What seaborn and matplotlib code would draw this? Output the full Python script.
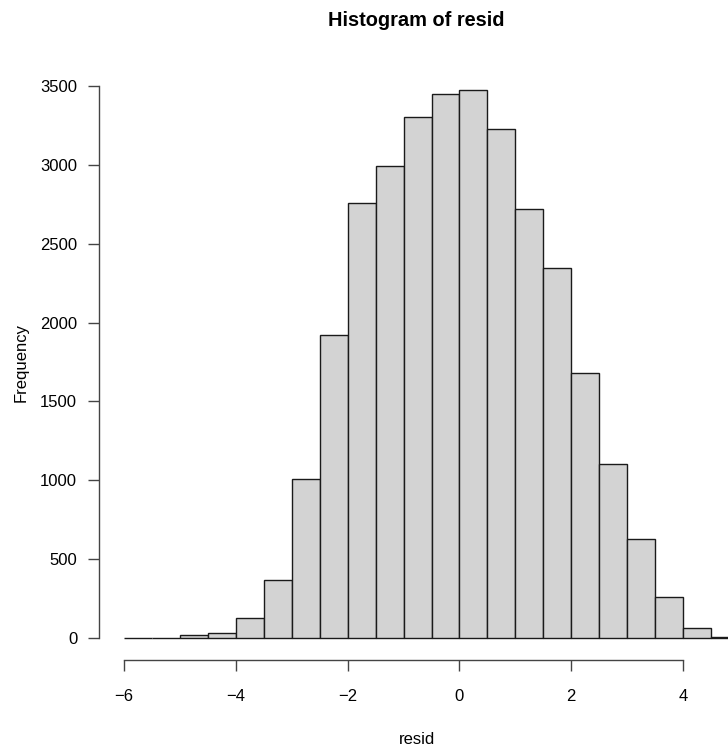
import matplotlib
matplotlib.use("Agg")
import matplotlib.pyplot as plt
import seaborn as sns
import numpy as np
import pandas as pd

# Data (bin width 0.5, from -6 to 5)
bin_edges = [-6.0, -5.5, -5.0, -4.5, -4.0, -3.5, -3.0, -2.5, -2.0, -1.5, -1.0,
             -0.5, 0.0, 0.5, 1.0, 1.5, 2.0, 2.5, 3.0, 3.5, 4.0, 4.5, 5.0]
counts = [3, 2, 17, 35, 125, 370, 1010, 1920, 2760, 2995, 3305,
          3450, 3475, 3225, 2720, 2345, 1680, 1105, 625, 260, 66, 8]
x_ticks = [-6, -4, -2, 0, 2, 4]
y_ticks = [0, 500, 1000, 1500, 2000, 2500, 3000, 3500]

title = "Histogram of resid"
xlabel = "resid"
ylabel = "Frequency"

sns.set_theme(style="white")
plt.rcParams['font.family'] = ['Liberation Sans', 'DejaVu Sans']
plt.rcParams['text.color'] = 'black'
plt.rcParams['xtick.color'] = '#444444'
plt.rcParams['ytick.color'] = '#444444'

centers = [(bin_edges[i] + bin_edges[i + 1]) / 2 for i in range(len(counts))]
df = pd.DataFrame({"resid": centers, "count": counts})

W, H = 728, 753
fig = plt.figure(figsize=(W / 100, H / 100), dpi=100)
left_px, right_px, top_px, bottom_px = 99.4, 763.6, 68, 660
ax = fig.add_axes([left_px / W, 1 - bottom_px / H,
                   (right_px - left_px) / W, (bottom_px - top_px) / H])

sns.histplot(data=df, x="resid", weights="count", bins=bin_edges, ax=ax,
             color="#D3D3D3", edgecolor="#1a1a1a", linewidth=1.0, alpha=1.0)

ax.set_xlim(-6.44, 5.44)
ax.set_ylim(-139, 3614)
ax.set_xticks(x_ticks)
ax.set_xticklabels([str(t).replace('-', '\u2212') for t in x_ticks])
ax.set_yticks(y_ticks)
ax.set_yticklabels([str(t) for t in y_ticks])
ax.set_xlabel("")
ax.set_ylabel("")

for s in ["top", "right"]:
    ax.spines[s].set_visible(False)
ax.spines["bottom"].set_bounds(-6, 4)
ax.spines["left"].set_bounds(0, 3500)
for s in ["bottom", "left"]:
    ax.spines[s].set_color("#444444")
    ax.spines[s].set_linewidth(1.0)

ax.tick_params(axis="both", which="major", direction="out", length=8.0,
               width=1.0, color="#444444", labelsize=12, labelcolor="black",
               bottom=True, left=True, top=False, right=False)
ax.tick_params(axis="x", pad=13)
ax.tick_params(axis="y", pad=8)
ax.set_facecolor("white")
fig.patch.set_facecolor("white")

fig.text(416 / W, 1 - 21 / H, title, ha="center", va="center",
         fontsize=14.4, fontweight="bold", color="black")
fig.text(417 / W, 1 - 740 / H, xlabel, ha="center", va="center",
         fontsize=12, color="black")
fig.text(21 / W, 1 - 363 / H, ylabel, ha="center", va="center",
         fontsize=12, rotation=90, color="black")

fig.savefig("out.png", dpi=100)
